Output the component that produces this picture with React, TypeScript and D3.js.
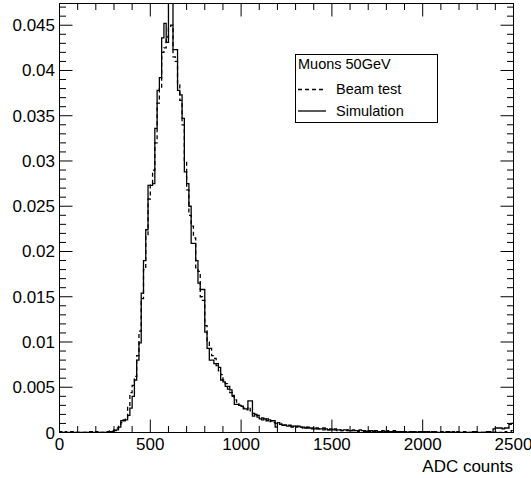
import React from "react";
import * as d3 from "d3";

const xDomain: [number, number] = [0, 2500];
const yDomain: [number, number] = [0, 0.0474];
const nBins = 200;
const xMajorTicks = [0, 500, 1000, 1500, 2000, 2500];
const xTickLabels = ["0", "500", "1000", "1500", "2000", "2500"];
const yMajorTicks = [0, 0.005, 0.01, 0.015, 0.02, 0.025, 0.03, 0.035, 0.04, 0.045];
const yTickLabels = ["0", "0.005", "0.01", "0.015", "0.02", "0.025", "0.03", "0.035", "0.04", "0.045"];
const xTitle = "ADC counts";
const legendTitle = "Muons 50GeV";
const seriesNames = ["Beam test", "Simulation"];

const simulation = [
  0, 0, 0, 0, 0, 0, 0, 0, 0, 0,
  0, 0, 0, 0, 0, 0, 0, 0, 0, 0,
  0, 0, 0.0001, 0.0001, 0.0002, 0.0003, 0.0006, 0.0013, 0.0013, 0.0014,
  0.0019, 0.0027, 0.004, 0.0058, 0.008, 0.0099, 0.0154, 0.019, 0.0224, 0.0273,
  0.0273, 0.0275, 0.0336, 0.0378, 0.0392, 0.0436, 0.0452, 0.0431, 0.049, 0.0485,
  0.0423, 0.0423, 0.0378, 0.0373, 0.0347, 0.0288, 0.0275, 0.025, 0.0209, 0.0209,
  0.019, 0.0165, 0.0158, 0.0158, 0.0111, 0.0093, 0.008, 0.008, 0.0076, 0.0076,
  0.0072, 0.0058, 0.0056, 0.0051, 0.0051, 0.0047, 0.0041, 0.0031, 0.0031, 0.003,
  0.0029, 0.0026, 0.0026, 0.0035, 0.0035, 0.0018, 0.002, 0.0017, 0.0015, 0.0014,
  0.0015, 0.0013, 0.0014, 0.0013, 0.0013, 0.0006, 0.0011, 0.0009, 0.0008, 0.0008,
  0.0007, 0.0008, 0.0006, 0.0007, 0.0006, 0.0007, 0.0006, 0.0006, 0.0005, 0.0006,
  0.0005, 0.0005, 0.0004, 0.0005, 0.0004, 0.0004, 0.0005, 0.0004, 0.0003, 0.0004,
  0.0003, 0.0004, 0.0003, 0.0003, 0.0002, 0.0003, 0.0003, 0.0002, 0.0002, 0.0003,
  0.0002, 0.0002, 0.0003, 0.0002, 0.0002, 0.0001, 0.0002, 0.0002, 0.0001, 0.0002,
  0.0001, 0.0001, 0.0002, 0.0001, 0.0001, 0.0001, 0.0001, 0.0002, 0.0001, 0.0001,
  0.0001, 0.0001, 0.0001, 0, 0.0001, 0.0001, 0.0001, 0, 0.0001, 0.0001,
  0.0001, 0, 0.0001, 0, 0.0001, 0.0001, 0, 0, 0.0001, 0,
  0, 0.0001, 0, 0, 0, 0.0001, 0, 0, 0, 0,
  0, 0, 0.0001, 0, 0, 0, 0, 0, 0.0001, 0,
  0, 0.0004, 0.0005, 0.0005, 0.0005, 0.0004, 0.0005, 0.0005, 0.0009, 0.001,
];

const beamTest = [
  0.0001, 0, 0.0001, 0, 0, 0.0001, 0, 0, 0, 0,
  0, 0, 0, 0.0001, 0.0001, 0, 0.0001, 0, 0, 0,
  0.0001, 0.0001, 0.0002, 0.0002, 0.0003, 0.0005, 0.0008, 0.0011, 0.0014, 0.0016,
  0.003, 0.0044, 0.0052, 0.0062, 0.0085, 0.0112, 0.0148, 0.018, 0.0218, 0.0258,
  0.0275, 0.029, 0.032, 0.0364, 0.038, 0.042, 0.0425, 0.0437, 0.0448, 0.045,
  0.0415, 0.041, 0.0384, 0.0367, 0.034, 0.03, 0.0268, 0.024, 0.0228, 0.0215,
  0.0182, 0.0178, 0.015, 0.0146, 0.0118, 0.01, 0.0093, 0.0085, 0.0082, 0.0074,
  0.0068, 0.0064, 0.0058, 0.0054, 0.0048, 0.0044, 0.004, 0.0036, 0.0032, 0.003,
  0.003, 0.0027, 0.0025, 0.0028, 0.0024, 0.0021, 0.002, 0.0019, 0.0017, 0.0016,
  0.0014, 0.0015, 0.0012, 0.0013, 0.0011, 0.001, 0.001, 0.0009, 0.001, 0.0008,
  0.0008, 0.0007, 0.0007, 0.0006, 0.0007, 0.0006, 0.0006, 0.0005, 0.0006, 0.0005,
  0.0005, 0.0004, 0.0005, 0.0004, 0.0004, 0.0004, 0.0003, 0.0004, 0.0003, 0.0003,
  0.0003, 0.0003, 0.0002, 0.0003, 0.0002, 0.0002, 0.0002, 0.0003, 0.0002, 0.0002,
  0.0002, 0.0001, 0.0002, 0.0002, 0.0001, 0.0002, 0.0001, 0.0001, 0.0002, 0.0001,
  0.0001, 0.0001, 0.0001, 0.0001, 0.0002, 0.0001, 0.0001, 0.0001, 0, 0.0001,
  0.0001, 0, 0.0001, 0.0001, 0, 0.0001, 0, 0.0001, 0, 0.0001,
  0, 0.0001, 0, 0, 0.0001, 0, 0, 0.0001, 0, 0,
  0.0001, 0, 0, 0.0001, 0, 0, 0, 0, 0.0001, 0,
  0, 0, 0, 0.0001, 0, 0, 0, 0, 0, 0.0001,
  0, 0, 0.0001, 0, 0, 0, 0.0001, 0, 0, 0.0002,
];

const W = 531;
const H = 478;
const FONT = "'Liberation Sans', Arial, Helvetica, sans-serif";

export default function App() {
  const left = 59.5, right = 513.5, top = 3.5, bottom = 432.5;
  const x = d3.scaleLinear().domain(xDomain).range([left, right]);
  const y = d3.scaleLinear().domain(yDomain).range([bottom, top]);
  const binW = (xDomain[1] - xDomain[0]) / nBins;

  const stepPath = (vals: number[]) => {
    const pts: [number, number][] = vals.map((v, i) => [xDomain[0] + i * binW, v]);
    pts.push([xDomain[1], vals[vals.length - 1]]);
    const line = d3
      .line<[number, number]>()
      .x((d) => x(d[0]))
      .y((d) => y(d[1]))
      .curve(d3.curveStepAfter);
    return line(pts) || "";
  };

  const majLen = 13;
  const minLen = 6.5;
  const xMinor = d3.range(0, 2501, 100).filter((v) => v % 500 !== 0);
  const yMinor = d3.range(0, 48).map((i) => i * 0.001).filter((v, i) => i % 5 !== 0 && v <= yDomain[1]);

  return (
    <svg
      width={W}
      height={H}
      style={{ position: "absolute", left: 0, top: 0, background: "#fff" }}
      fontFamily={FONT}
    >
      <defs>
        <clipPath id="plotClip">
          <rect x={left} y={top} width={right - left} height={bottom - top} />
        </clipPath>
      </defs>
      <rect x={0} y={0} width={W} height={H} fill="#fff" />

      <g clipPath="url(#plotClip)" fill="none" stroke="#000">
        <path d={stepPath(beamTest)} strokeWidth={1.3} strokeDasharray="4,3" />
        <path d={stepPath(simulation)} strokeWidth={1.3} />
      </g>

      {/* frame */}
      <rect x={left} y={top} width={right - left} height={bottom - top} fill="none" stroke="#000" strokeWidth={1} />

      {/* x ticks */}
      <g stroke="#000" strokeWidth={1}>
        {xMajorTicks.map((v) => (
          <g key={"xm" + v}>
            <line x1={x(v)} x2={x(v)} y1={bottom} y2={bottom - majLen} />
            <line x1={x(v)} x2={x(v)} y1={top} y2={top + majLen} />
          </g>
        ))}
        {xMinor.map((v) => (
          <g key={"xn" + v}>
            <line x1={x(v)} x2={x(v)} y1={bottom} y2={bottom - minLen} />
            <line x1={x(v)} x2={x(v)} y1={top} y2={top + minLen} />
          </g>
        ))}
        {yMajorTicks.map((v) => (
          <g key={"ym" + v}>
            <line x1={left} x2={left + majLen} y1={y(v)} y2={y(v)} />
            <line x1={right} x2={right - majLen} y1={y(v)} y2={y(v)} />
          </g>
        ))}
        {yMinor.map((v) => (
          <g key={"yn" + v}>
            <line x1={left} x2={left + minLen} y1={y(v)} y2={y(v)} />
            <line x1={right} x2={right - minLen} y1={y(v)} y2={y(v)} />
          </g>
        ))}
      </g>

      {/* tick labels */}
      <g fontSize={17} fill="#000">
        {xMajorTicks.map((v, i) => (
          <text key={"xl" + v} x={x(v)} y={450} textAnchor="middle">
            {xTickLabels[i]}
          </text>
        ))}
        {yMajorTicks.map((v, i) => (
          <text key={"yl" + v} x={55} y={y(v) + 6} textAnchor="end">
            {yTickLabels[i]}
          </text>
        ))}
        <text x={513} y={472} textAnchor="end">
          {xTitle}
        </text>
      </g>

      {/* legend */}
      <g>
        <rect x={295.5} y={54.5} width={142} height={68} fill="#fff" stroke="#000" strokeWidth={1} />
        <text x={298} y={69} fontSize={14.5} fill="#000">
          {legendTitle}
        </text>
        <line x1={298} x2={326} y1={89.5} y2={89.5} stroke="#000" strokeWidth={1.3} strokeDasharray="4,3" />
        <text x={336} y={94} fontSize={14.5} fill="#000">
          {seriesNames[0]}
        </text>
        <line x1={298} x2={326} y1={111} y2={111} stroke="#000" strokeWidth={1.3} />
        <text x={336} y={116} fontSize={14.5} fill="#000">
          {seriesNames[1]}
        </text>
      </g>
    </svg>
  );
}
